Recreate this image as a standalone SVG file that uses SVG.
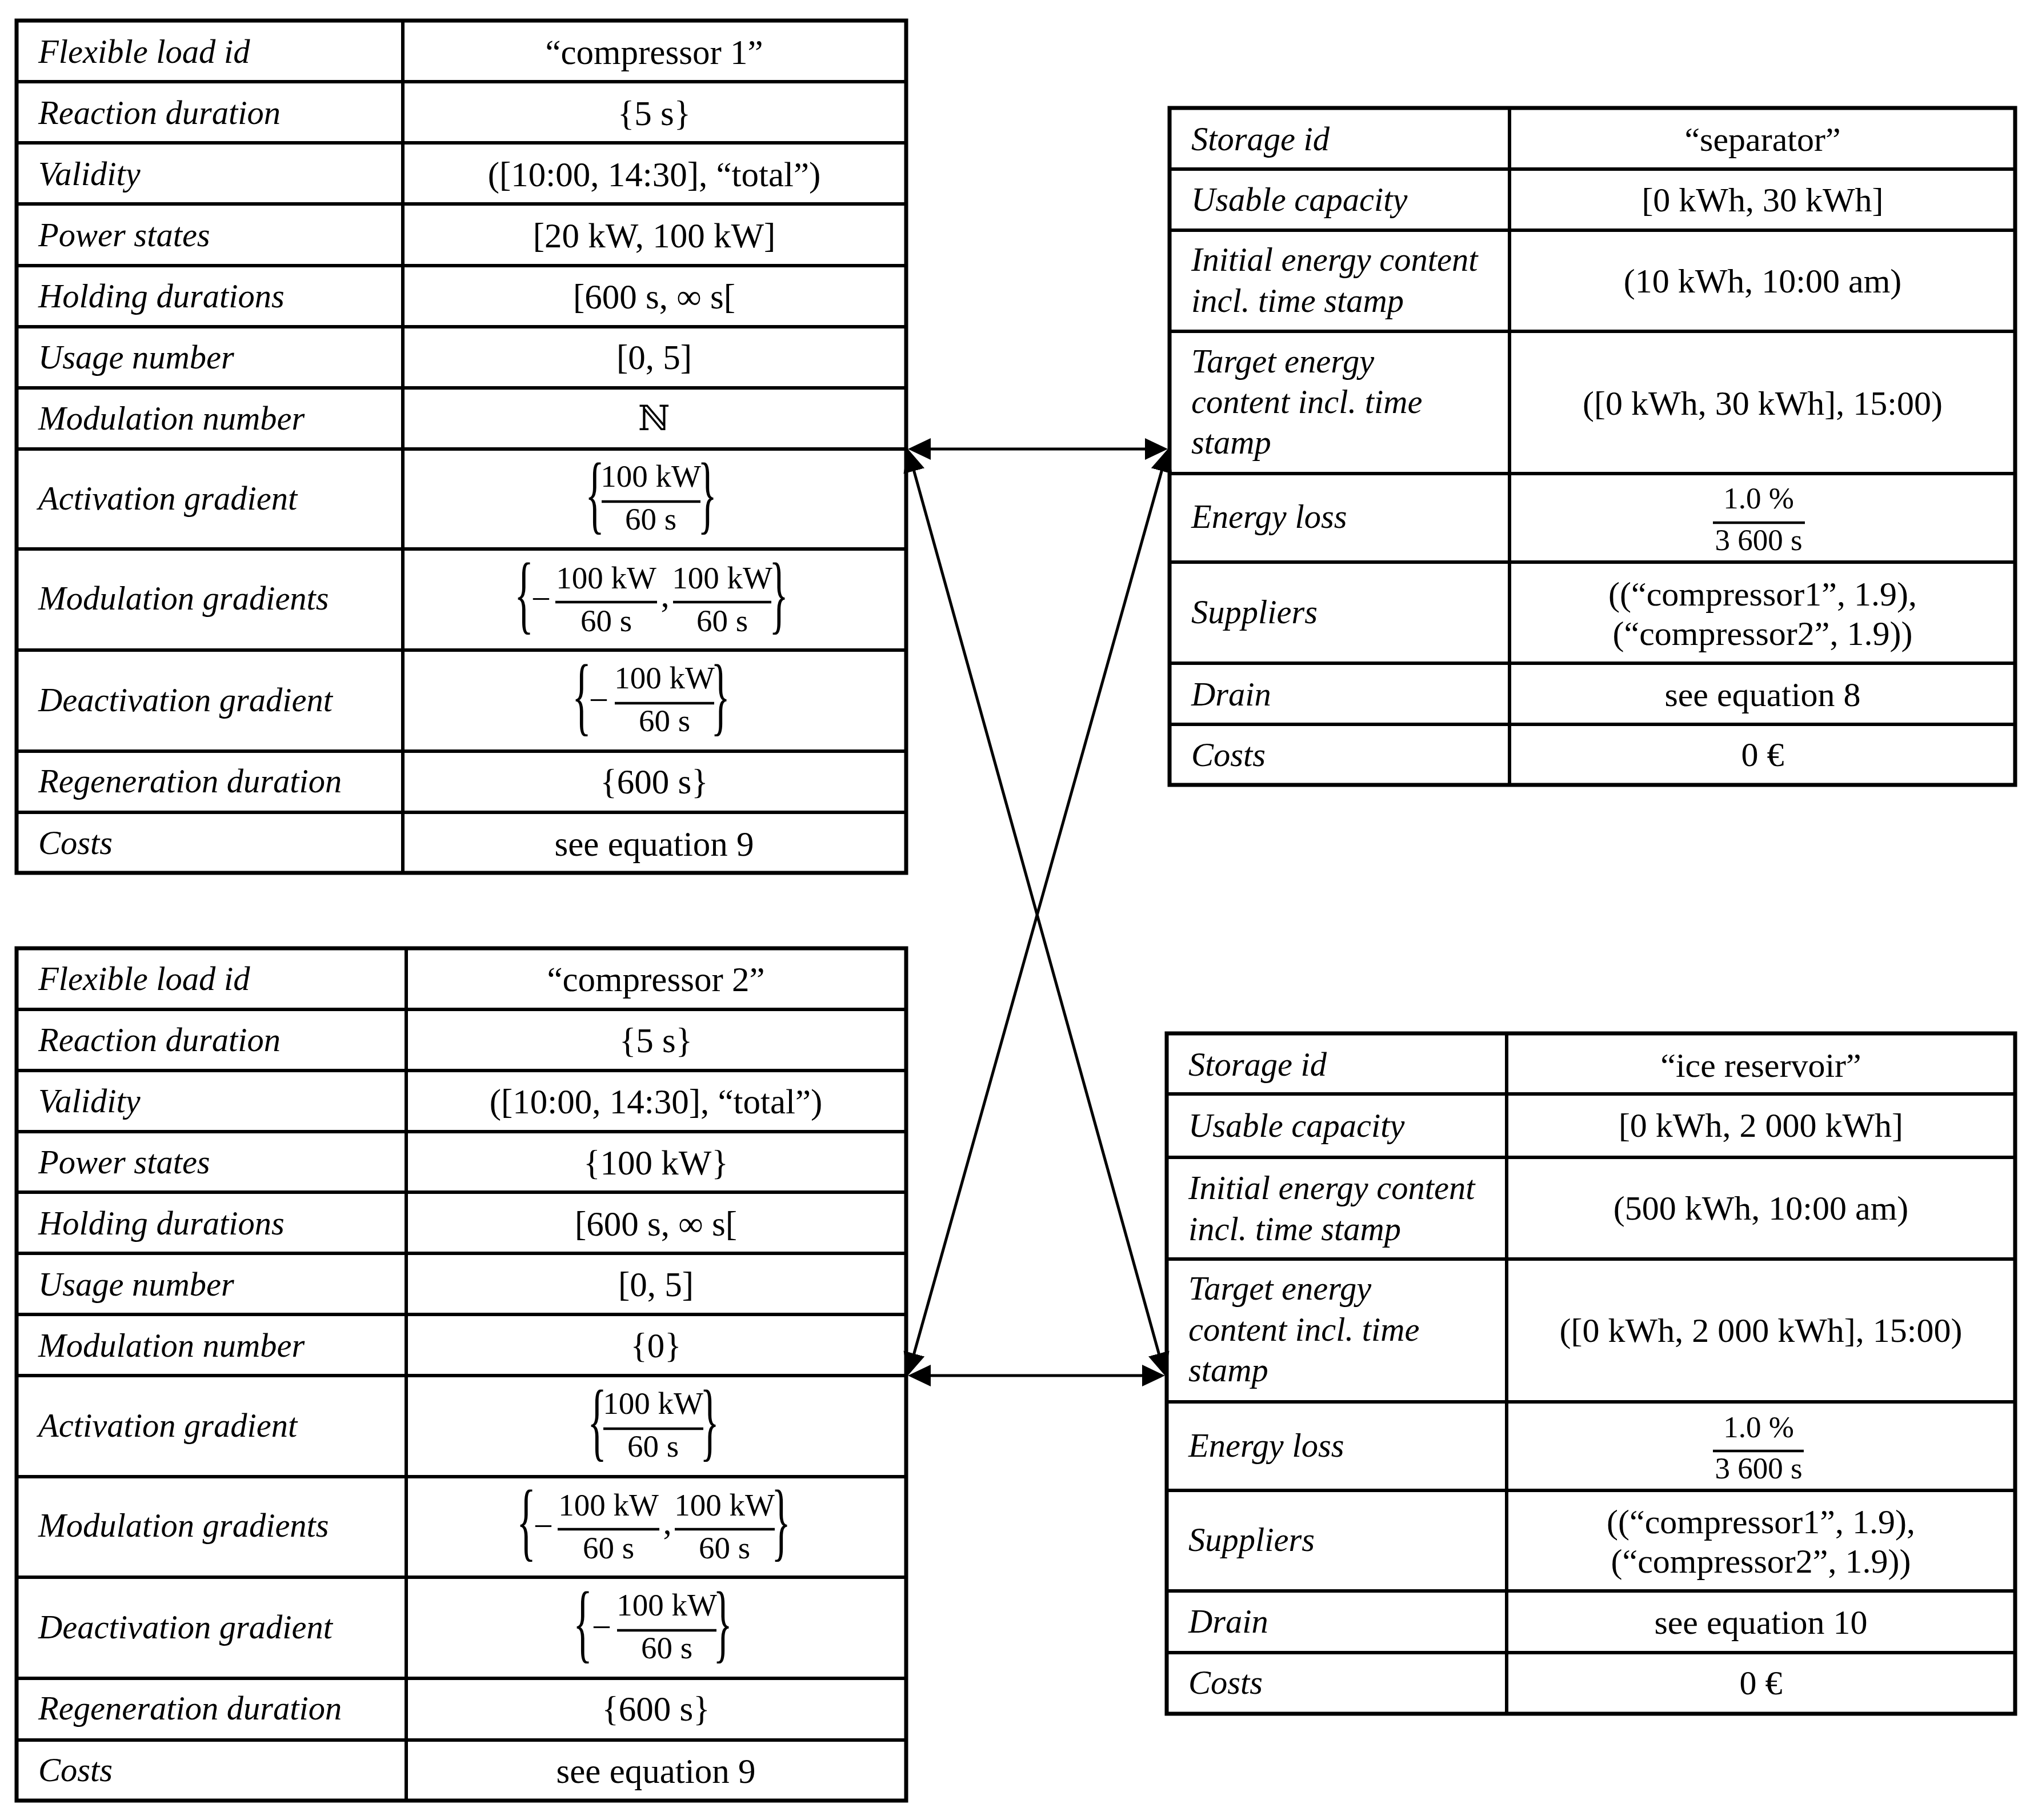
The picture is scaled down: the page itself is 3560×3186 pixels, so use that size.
<svg xmlns="http://www.w3.org/2000/svg" width="3560" height="3186" viewBox="0 0 3560 3186">
<style>
.bg{fill:#fff}
.outer{fill:none;stroke:#000;stroke-width:7}
.grid{fill:none;stroke:#000;stroke-width:6}
.fl{stroke:#000;stroke-width:4.5;fill:none}
text{font-family:"Liberation Serif","DejaVu Serif",serif;fill:#000}
.lbl{font-style:italic;font-size:58.5px}
.val{font-size:61px;text-anchor:middle}
.rval{font-size:60px;text-anchor:middle}
.fr{font-size:55px;text-anchor:middle}
.rfr{font-size:53px;text-anchor:middle}
.br{font-size:70px;text-anchor:middle}
.conn{fill:none;stroke:#000;stroke-width:5;marker-start:url(#ah);marker-end:url(#ah)}
</style>
<defs>
<marker id="ah" viewBox="0 0 40 38" refX="30" refY="19" markerWidth="40" markerHeight="38" markerUnits="userSpaceOnUse" orient="auto-start-reverse"><path d="M0,0 L40,19 L0,38 z" fill="#000"/></marker>
</defs>
<rect class="bg" x="0" y="0" width="3560" height="3186"/>

<g id="compressor1">
<rect class="outer" x="29" y="36" width="1557" height="1492"/>
<path class="grid" d="M705 36V1528M29 143H1586M29 250H1586M29 357H1586M29 465H1586M29 572H1586M29 679H1586M29 786H1586M29 961H1586M29 1138H1586M29 1315H1586M29 1422H1586"/>
<text class="lbl" x="67" y="110">Flexible load id</text>
<text class="lbl" x="67" y="217">Reaction duration</text>
<text class="lbl" x="67" y="324">Validity</text>
<text class="lbl" x="67" y="431">Power states</text>
<text class="lbl" x="67" y="538">Holding durations</text>
<text class="lbl" x="67" y="645">Usage number</text>
<text class="lbl" x="67" y="752">Modulation number</text>
<text class="lbl" x="67" y="892">Activation gradient</text>
<text class="lbl" x="67" y="1067">Modulation gradients</text>
<text class="lbl" x="67" y="1245">Deactivation gradient</text>
<text class="lbl" x="67" y="1387">Regeneration duration</text>
<text class="lbl" x="67" y="1495">Costs</text>
<text class="val" x="1145" y="112">“compressor 1”</text>
<text class="val" x="1145" y="219">{5 s}</text>
<text class="val" x="1145" y="326">([10:00, 14:30], “total”)</text>
<text class="val" x="1145" y="433">[20 kW, 100 kW]</text>
<text class="val" x="1145" y="540">[600 s, ∞ s[</text>
<text class="val" x="1145" y="646">[0, 5]</text>
<text class="val" x="1145" y="753">ℕ</text>
<text class="br" transform="translate(1041 916) scale(1 2.18)">{</text>
<text class="fr" x="1139" y="852">100 kW</text>
<line class="fl" x1="1053" y1="878" x2="1226" y2="878"/>
<text class="fr" x="1139" y="927">60 s</text>
<text class="br" transform="translate(1238 916) scale(1 2.18)">}</text>
<text class="br" transform="translate(917 1091) scale(1 2.18)">{</text>
<text class="val" x="947" y="1069">−</text>
<text class="fr" x="1061" y="1030">100 kW</text>
<line class="fl" x1="972" y1="1054" x2="1150" y2="1054"/>
<text class="fr" x="1061" y="1105">60 s</text>
<text class="val" x="1164" y="1062">,</text>
<text class="fr" x="1264" y="1030">100 kW</text>
<line class="fl" x1="1178" y1="1054" x2="1350" y2="1054"/>
<text class="fr" x="1264" y="1105">60 s</text>
<text class="br" transform="translate(1363 1091) scale(1 2.18)">}</text>
<text class="br" transform="translate(1018 1269) scale(1 2.18)">{</text>
<text class="val" x="1048" y="1246">−</text>
<text class="fr" x="1163" y="1205">100 kW</text>
<line class="fl" x1="1076" y1="1231" x2="1250" y2="1231"/>
<text class="fr" x="1163" y="1280">60 s</text>
<text class="br" transform="translate(1261 1269) scale(1 2.18)">}</text>
<text class="val" x="1145" y="1389">{600 s}</text>
<text class="val" x="1145" y="1498">see equation 9</text>
</g>

<g id="compressor2" transform="translate(0 1623)">
<rect class="outer" x="29" y="37" width="1557" height="1492"/>
<path class="grid" d="M711 37V1529M29 144H1586M29 251H1586M29 358H1586M29 464H1586M29 571H1586M29 678H1586M29 785H1586M29 962H1586M29 1138H1586M29 1315H1586M29 1423H1586"/>
<text class="lbl" x="67" y="110">Flexible load id</text>
<text class="lbl" x="67" y="217">Reaction duration</text>
<text class="lbl" x="67" y="324">Validity</text>
<text class="lbl" x="67" y="431">Power states</text>
<text class="lbl" x="67" y="538">Holding durations</text>
<text class="lbl" x="67" y="645">Usage number</text>
<text class="lbl" x="67" y="752">Modulation number</text>
<text class="lbl" x="67" y="892">Activation gradient</text>
<text class="lbl" x="67" y="1067">Modulation gradients</text>
<text class="lbl" x="67" y="1245">Deactivation gradient</text>
<text class="lbl" x="67" y="1387">Regeneration duration</text>
<text class="lbl" x="67" y="1495">Costs</text>
<text class="val" x="1148" y="112">“compressor 2”</text>
<text class="val" x="1148" y="219">{5 s}</text>
<text class="val" x="1148" y="326">([10:00, 14:30], “total”)</text>
<text class="val" x="1148" y="433">{100 kW}</text>
<text class="val" x="1148" y="540">[600 s, ∞ s[</text>
<text class="val" x="1148" y="646">[0, 5]</text>
<text class="val" x="1148" y="753">{0}</text>
<text class="br" transform="translate(1045 916) scale(1 2.18)">{</text>
<text class="fr" x="1143" y="852">100 kW</text>
<line class="fl" x1="1056" y1="878" x2="1231" y2="878"/>
<text class="fr" x="1143" y="927">60 s</text>
<text class="br" transform="translate(1242 916) scale(1 2.18)">}</text>
<text class="br" transform="translate(921 1091) scale(1 2.18)">{</text>
<text class="val" x="951" y="1069">−</text>
<text class="fr" x="1065" y="1030">100 kW</text>
<line class="fl" x1="976" y1="1054" x2="1154" y2="1054"/>
<text class="fr" x="1065" y="1105">60 s</text>
<text class="val" x="1168" y="1062">,</text>
<text class="fr" x="1268" y="1030">100 kW</text>
<line class="fl" x1="1181" y1="1054" x2="1356" y2="1054"/>
<text class="fr" x="1268" y="1105">60 s</text>
<text class="br" transform="translate(1367 1091) scale(1 2.18)">}</text>
<text class="br" transform="translate(1020 1269) scale(1 2.18)">{</text>
<text class="val" x="1053" y="1246">−</text>
<text class="fr" x="1167" y="1205">100 kW</text>
<line class="fl" x1="1080" y1="1231" x2="1254" y2="1231"/>
<text class="fr" x="1167" y="1280">60 s</text>
<text class="br" transform="translate(1265 1269) scale(1 2.18)">}</text>
<text class="val" x="1148" y="1389">{600 s}</text>
<text class="val" x="1148" y="1498">see equation 9</text>
</g>

<g id="separator">
<rect class="outer" x="2047" y="189" width="1480" height="1185"/>
<path class="grid" d="M2642 189V1374M2047 296H3527M2047 403H3527M2047 580H3527M2047 829H3527M2047 984H3527M2047 1161H3527M2047 1268H3527"/>
<text class="lbl" x="2085" y="263">Storage id</text>
<text class="lbl" x="2085" y="369">Usable capacity</text>
<text class="lbl" x="2085" y="474">Initial energy content</text>
<text class="lbl" x="2085" y="546">incl. time stamp</text>
<text class="lbl" x="2085" y="652">Target energy</text>
<text class="lbl" x="2085" y="723">content incl. time</text>
<text class="lbl" x="2085" y="794">stamp</text>
<text class="lbl" x="2085" y="924">Energy loss</text>
<text class="lbl" x="2085" y="1091">Suppliers</text>
<text class="lbl" x="2085" y="1235">Drain</text>
<text class="lbl" x="2085" y="1341">Costs</text>
<text class="rval" x="3085" y="264">“separator”</text>
<text class="rval" x="3085" y="370">[0 kWh, 30 kWh]</text>
<text class="rval" x="3085" y="512">(10 kWh, 10:00 am)</text>
<text class="rval" x="3085" y="726">([0 kWh, 30 kWh], 15:00)</text>
<text class="rfr" x="3078" y="890">1.0 %</text>
<line class="fl" x1="2998" y1="915" x2="3159" y2="915"/>
<text class="rfr" x="3078" y="963">3 600 s</text>
<text class="rval" x="3085" y="1060">((“compressor1”, 1.9),</text>
<text class="rval" x="3085" y="1129">(“compressor2”, 1.9))</text>
<text class="rval" x="3085" y="1236">see equation 8</text>
<text class="rval" x="3085" y="1341">0 €</text>
</g>

<g id="ice_reservoir">
<rect class="outer" x="2042" y="1809" width="1485" height="1191"/>
<path class="grid" d="M2637 1809V3000M2042 1915H3527M2042 2026H3527M2042 2204H3527M2042 2454H3527M2042 2609H3527M2042 2785H3527M2042 2893H3527"/>
<text class="lbl" x="2080" y="1883">Storage id</text>
<text class="lbl" x="2080" y="1990">Usable capacity</text>
<text class="lbl" x="2080" y="2099">Initial energy content</text>
<text class="lbl" x="2080" y="2171">incl. time stamp</text>
<text class="lbl" x="2080" y="2275">Target energy</text>
<text class="lbl" x="2080" y="2347">content incl. time</text>
<text class="lbl" x="2080" y="2418">stamp</text>
<text class="lbl" x="2080" y="2550">Energy loss</text>
<text class="lbl" x="2080" y="2715">Suppliers</text>
<text class="lbl" x="2080" y="2858">Drain</text>
<text class="lbl" x="2080" y="2965">Costs</text>
<text class="rval" x="3082" y="1885">“ice reservoir”</text>
<text class="rval" x="3082" y="1990">[0 kWh, 2 000 kWh]</text>
<text class="rval" x="3082" y="2135">(500 kWh, 10:00 am)</text>
<text class="rval" x="3082" y="2349">([0 kWh, 2 000 kWh], 15:00)</text>
<text class="rfr" x="3078" y="2516">1.0 %</text>
<line class="fl" x1="2998" y1="2540" x2="3157" y2="2540"/>
<text class="rfr" x="3078" y="2588">3 600 s</text>
<text class="rval" x="3082" y="2684">((“compressor1”, 1.9),</text>
<text class="rval" x="3082" y="2753">(“compressor2”, 1.9))</text>
<text class="rval" x="3082" y="2860">see equation 10</text>
<text class="rval" x="3082" y="2966">0 €</text>
</g>

<g id="connectors">
<line class="conn" x1="1599" y1="786" x2="2034" y2="786"/>
<line class="conn" x1="1599" y1="2408" x2="2029" y2="2408"/>
<line class="conn" x1="1591.7" y1="795.6" x2="2036.3" y2="2398.4"/>
<line class="conn" x1="1591.7" y1="2398.4" x2="2041.3" y2="795.6"/>
</g>
</svg>
